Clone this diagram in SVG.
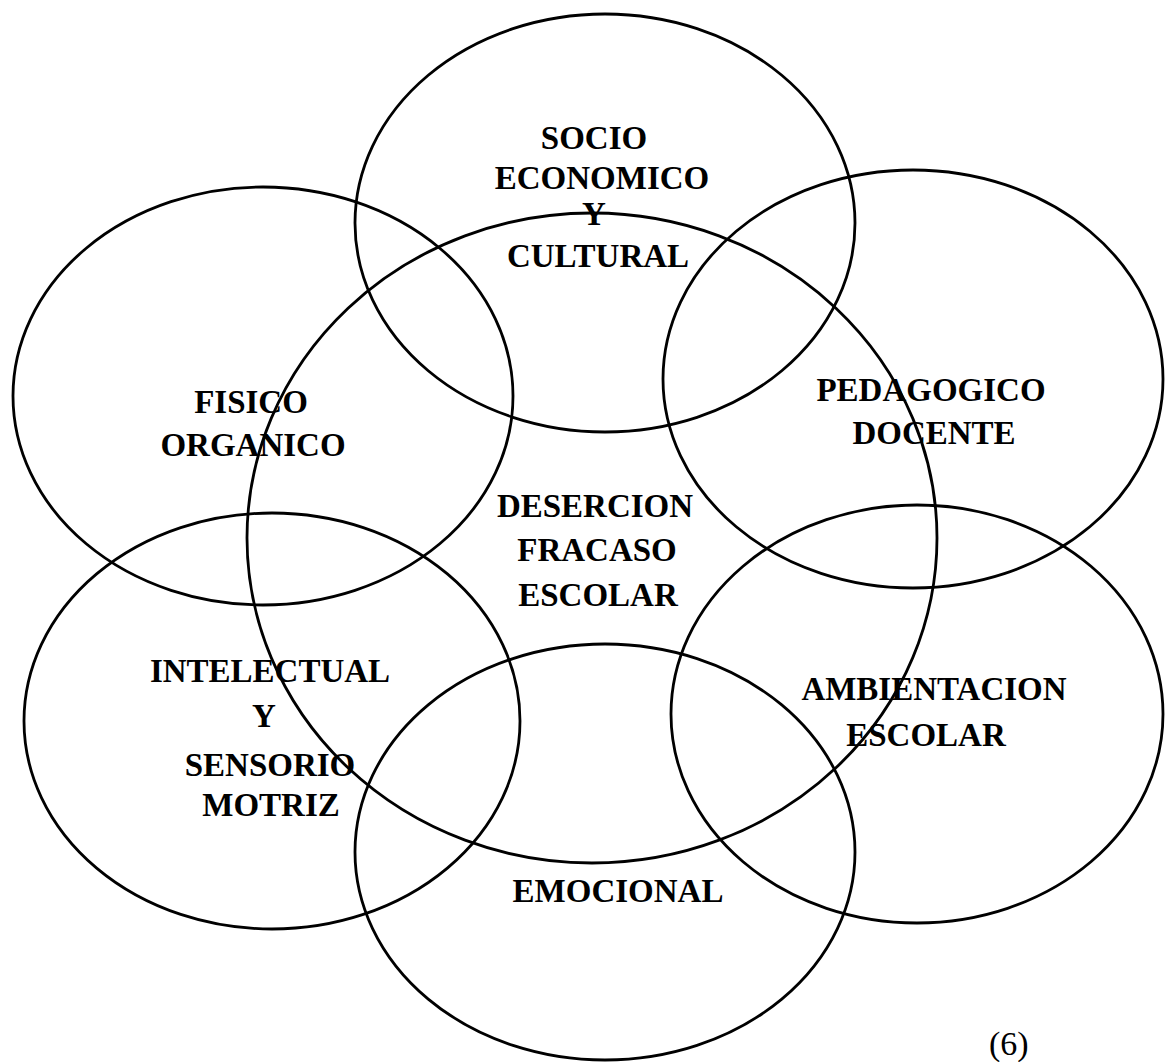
<svg xmlns="http://www.w3.org/2000/svg" width="1165" height="1062" viewBox="0 0 1165 1062">
<style>
.e{fill:none;stroke:#000;stroke-width:2.8}
.t{font-family:"Liberation Serif","Times New Roman",serif;font-weight:bold;font-size:33px;fill:#000;text-anchor:middle}
.n{font-family:"Liberation Serif","Times New Roman",serif;font-size:34px;fill:#000}
</style>
<rect width="1165" height="1062" fill="#fff"/>
<g id="fisico"><ellipse class="e" cx="263" cy="396" rx="250" ry="209"/></g>
<g id="socio"><ellipse class="e" cx="605" cy="223" rx="250" ry="209"/></g>
<g id="pedagogico"><ellipse class="e" cx="913" cy="379" rx="250" ry="209"/></g>
<g id="intelectual"><ellipse class="e" cx="272" cy="721" rx="248" ry="208"/></g>
<g id="ambientacion"><ellipse class="e" cx="917" cy="714" rx="246" ry="209"/></g>
<g id="emocional"><ellipse class="e" cx="605" cy="852" rx="250" ry="208"/></g>
<g id="desercion"><ellipse class="e" cx="592" cy="538" rx="345" ry="325"/></g>
<g id="labels">
<text class="t" x="594" y="149">SOCIO</text>
<text class="t" x="602" y="189">ECONOMICO</text>
<text class="t" x="594" y="225">Y</text>
<text class="t" x="598" y="267">CULTURAL</text>
<text class="t" x="251" y="413">FISICO</text>
<text class="t" x="253" y="456">ORGANICO</text>
<text class="t" x="931" y="401">PEDAGOGICO</text>
<text class="t" x="934" y="444">DOCENTE</text>
<text class="t" x="595" y="517">DESERCION</text>
<text class="t" x="597" y="561">FRACASO</text>
<text class="t" x="598" y="606">ESCOLAR</text>
<text class="t" x="270" y="682">INTELECTUAL</text>
<text class="t" x="264" y="727">Y</text>
<text class="t" x="270" y="776">SENSORIO</text>
<text class="t" x="271" y="816">MOTRIZ</text>
<text class="t" x="934" y="700">AMBIENTACION</text>
<text class="t" x="926" y="746">ESCOLAR</text>
<text class="t" x="618" y="902">EMOCIONAL</text>
<text class="n" x="989" y="1055">(6)</text>
</g>
</svg>
